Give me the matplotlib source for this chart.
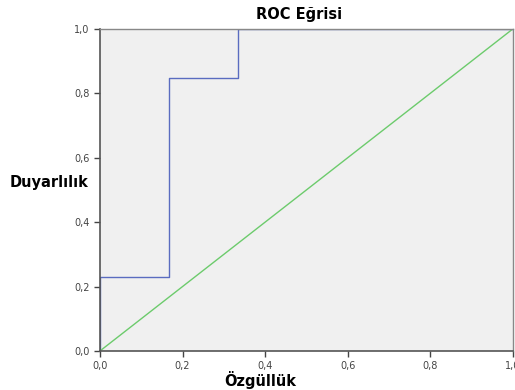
import numpy as np
import matplotlib.pyplot as plt
from matplotlib.ticker import FuncFormatter

# ROC step curve (1 - specificity, sensitivity)
fpr = [0.0, 0.0, 1/6, 1/6, 1/3, 1/3, 1.0]
tpr = [0.0, 3/13, 3/13, 11/13, 11/13, 1.0, 1.0]
ref_line = [0.0, 1.0]
ticks = [0.0, 0.2, 0.4, 0.6, 0.8, 1.0]

fig = plt.figure(figsize=(5.15, 3.9), dpi=100)
ax = fig.add_axes([0.194, 0.10, 0.802, 0.826])
ax.set_facecolor("#f0f0f0")

ax.plot(fpr, tpr, color="#5a6cc0", lw=1.0)
ax.plot(ref_line, ref_line, color="#6ccb6c", lw=1.0)

ax.set_xlim(0, 1)
ax.set_ylim(0, 1)
ax.set_xticks(ticks)
ax.set_yticks(ticks)
fmt = FuncFormatter(lambda v, p: ("%.1f" % v).replace(".", ","))
ax.xaxis.set_major_formatter(fmt)
ax.yaxis.set_major_formatter(fmt)
ax.tick_params(labelsize=7, colors="#444444", length=4, width=1, direction="out")

for side in ["left", "bottom"]:
    ax.spines[side].set_color("#555555")
    ax.spines[side].set_linewidth(1.2)
for side in ["top", "right"]:
    ax.spines[side].set_color("#888888")
    ax.spines[side].set_linewidth(1.0)

fig.text(0.58, 0.962, "ROC Eğrisi", ha="center", va="center", fontsize=10.5, fontweight="bold")
fig.text(0.095, 0.531, "Duyarlılık", ha="center", va="center", fontsize=10.5, fontweight="bold")
fig.text(0.505, 0.025, "Özgüllük", ha="center", va="center", fontsize=10.5, fontweight="bold")

fig.savefig("out.png", dpi=100)
